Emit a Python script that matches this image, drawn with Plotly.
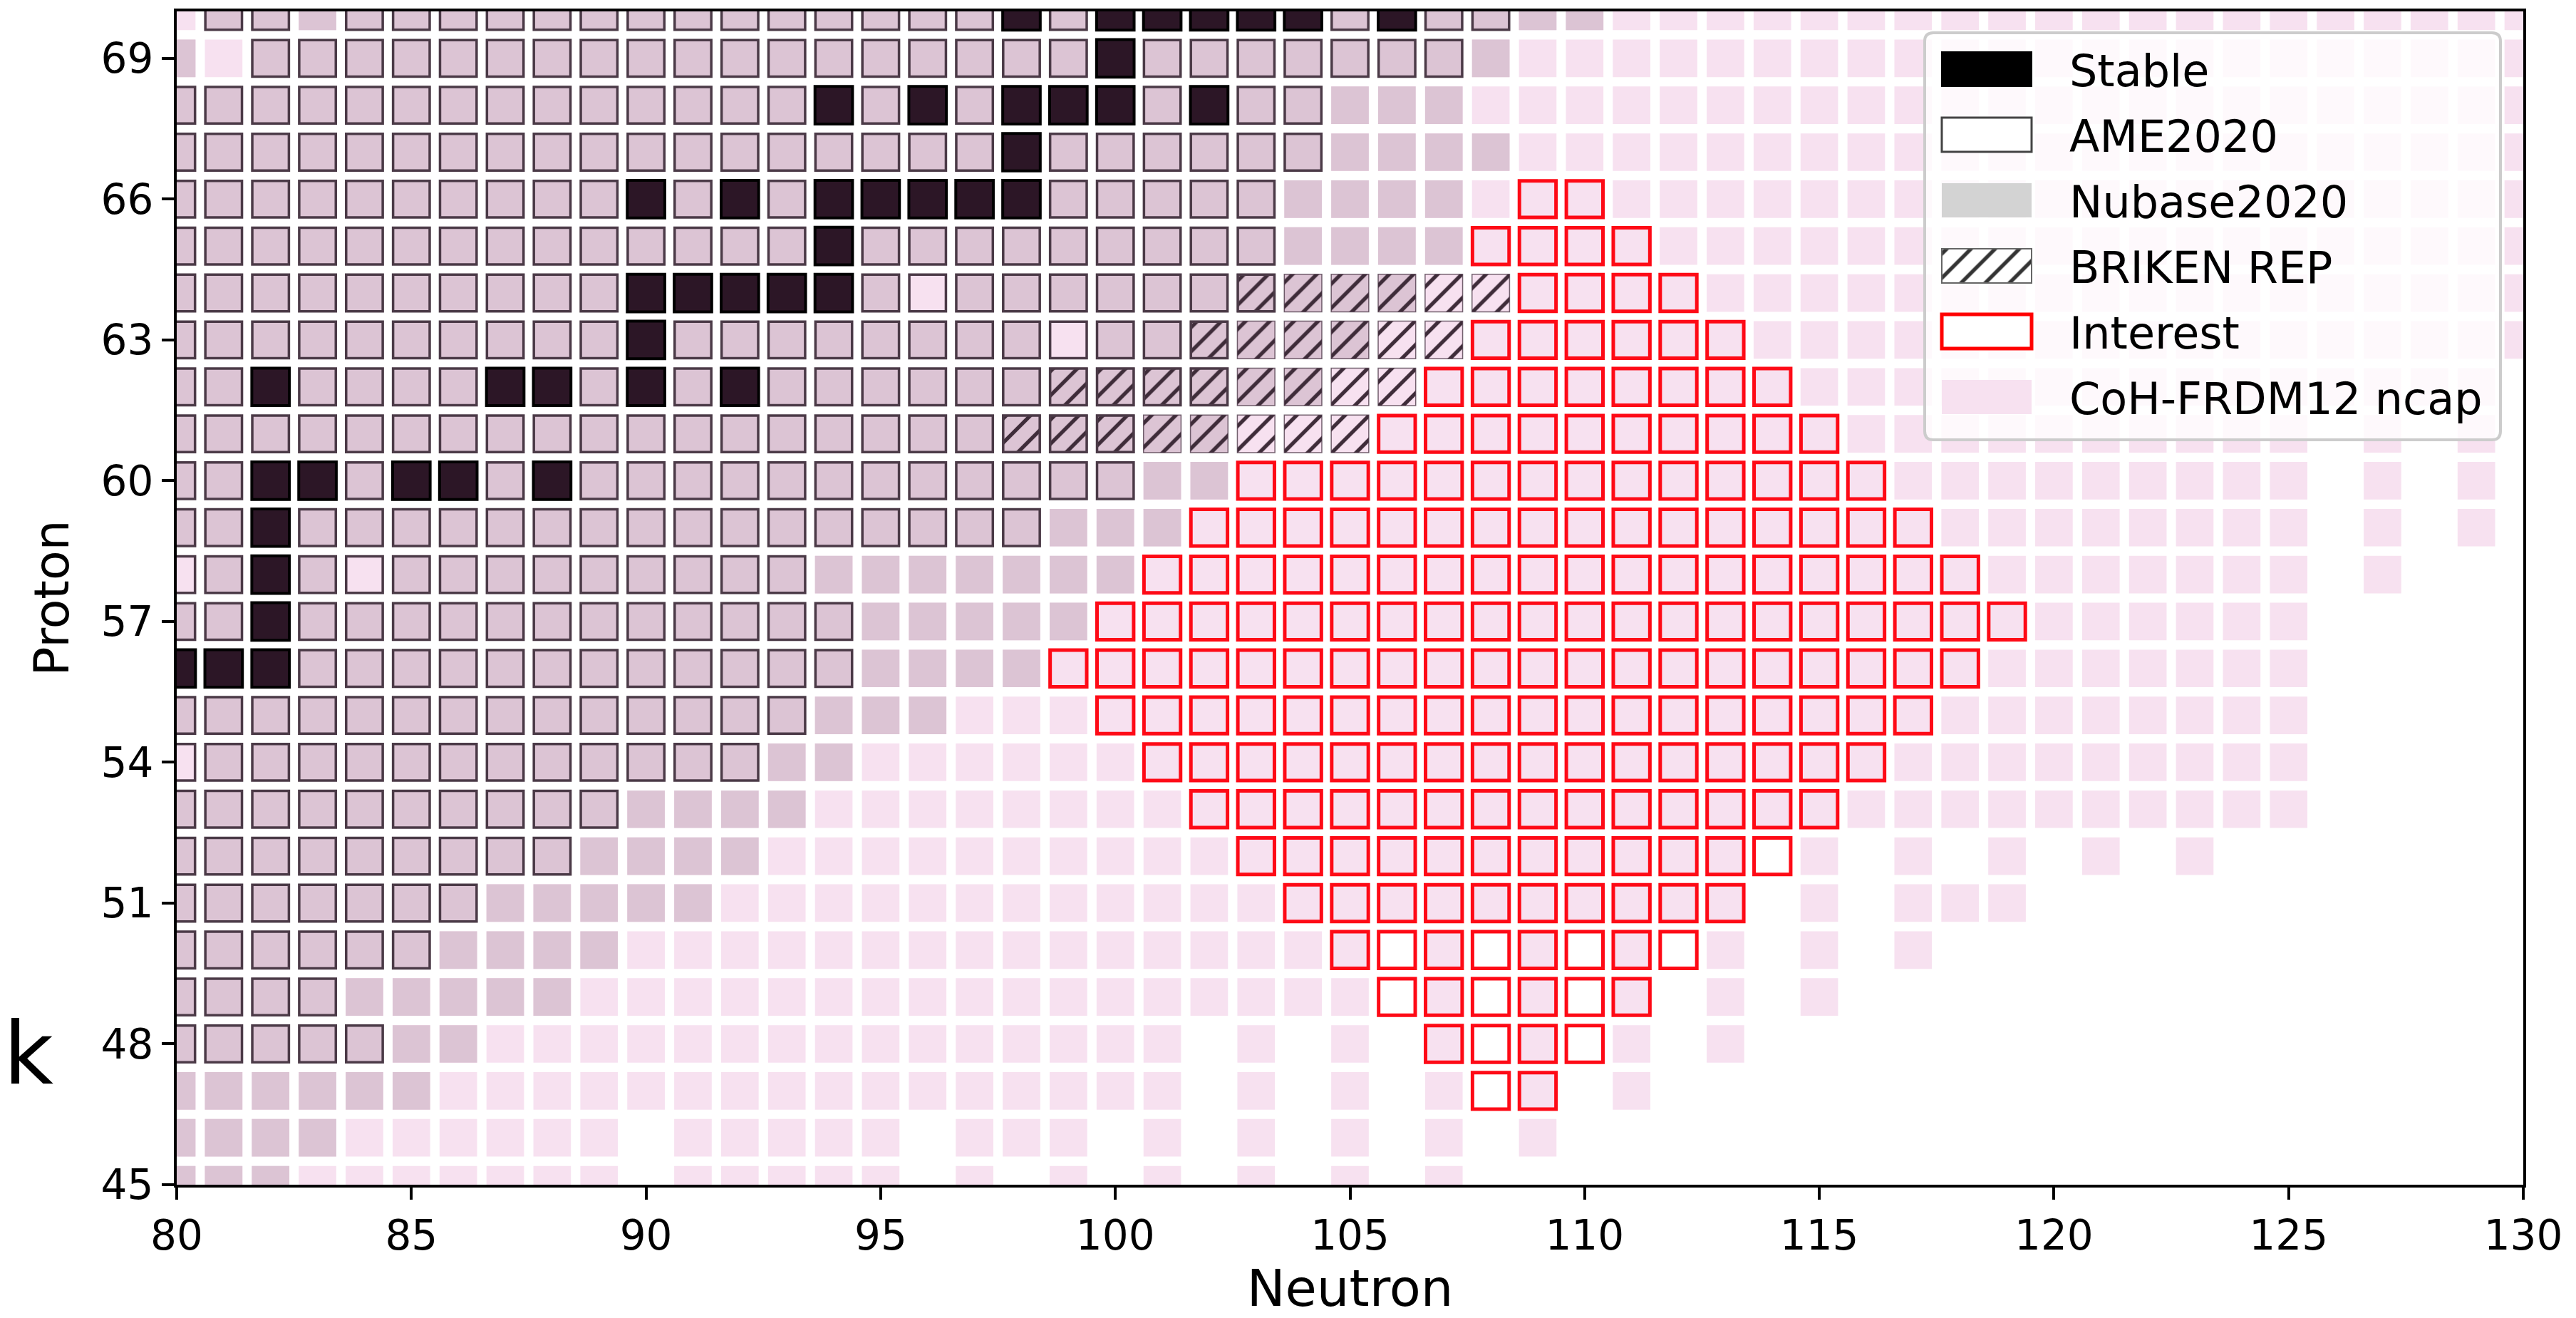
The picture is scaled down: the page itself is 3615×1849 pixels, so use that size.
import plotly.graph_objects as go

# ---------------- data ----------------
# Each dict: proton number Z -> list of neutron numbers N (int) or inclusive runs (first, last)
NCAP_COH_FRDM12 = {
    70: [(80, 130)], 69: [(80, 130)], 68: [(80, 130)], 67: [(80, 130)],
    66: [(80, 130)], 65: [(80, 130)], 64: [(80, 130)], 63: [(80, 130)],
    62: [(80, 129)],
    61: [(80, 125), 127, 129], 60: [(80, 125), 127, 129], 59: [(80, 125), 127, 129],
    58: [(80, 125), 127],
    57: [(80, 125)], 56: [(80, 125)], 55: [(80, 125)], 54: [(80, 125)], 53: [(80, 125)],
    52: [(80, 113), 115, 117, 119, 121, 123],
    51: [(80, 113), 115, (117, 119)],
    50: [(80, 105), 107, 109, 111, 113, 115, 117],
    49: [(80, 105), 107, 109, 111, 113, 115],
    48: [(80, 101), 103, 105, 107, 109, 111, 113],
    47: [(80, 101), 103, 105, 107, 109, 111],
    46: [(80, 89), (91, 95), (97, 99), 101, 103, 105, 107, 109],
    45: [(80, 89), (91, 95), 97, 99, 101, 103, 105, 107],
}

NUBASE2020 = {
    70: [(81, 110)], 69: [80, (82, 108)], 68: [(80, 107)], 67: [(80, 108)],
    66: [(80, 107)], 65: [(80, 107)], 64: [(80, 95), (97, 106)],
    63: [(80, 98), (100, 105)], 62: [(80, 104)], 61: [(80, 102)],
    60: [(80, 102)], 59: [(80, 101)], 58: [(81, 83), (85, 100)],
    57: [(80, 99)], 56: [(80, 98)], 55: [(80, 96)], 54: [(81, 94)],
    53: [(80, 93)], 52: [(80, 92)], 51: [(80, 91)], 50: [(80, 89)],
    49: [(80, 88)], 48: [(80, 86)], 47: [(80, 85)], 46: [(80, 83)], 45: [(80, 82)],
}

AME2020 = {
    70: [(81, 82), (84, 108)], 69: [(82, 107)], 68: [(80, 104)], 67: [(80, 104)],
    66: [(80, 103)], 65: [(80, 103)], 64: [(80, 103)], 63: [(80, 102)],
    62: [(80, 102)], 61: [(80, 100)], 60: [(80, 100)], 59: [(80, 98)],
    58: [(80, 93)], 57: [(80, 94)], 56: [(80, 94)], 55: [(80, 93)],
    54: [(80, 92)], 53: [(80, 89)], 52: [(80, 88)], 51: [(80, 86)],
    50: [(80, 85)], 49: [(80, 83)], 48: [(80, 84)],
}

STABLE = {
    70: [98, 100, 101, 102, 103, 104, 106], 69: [100],
    68: [94, 96, 98, 99, 100, 102], 67: [98],
    66: [90, 92, 94, 95, 96, 97, 98], 65: [94],
    64: [90, 91, 92, 93, 94], 63: [90],
    62: [82, 87, 88, 90, 92], 60: [82, 83, 85, 86, 88],
    59: [82], 58: [82], 57: [82], 56: [80, 81, 82],
}

BRIKEN_REP = {64: [(103, 108)], 63: [(102, 107)], 62: [(99, 106)], 61: [(98, 105)]}

INTEREST = {
    66: [(109, 110)], 65: [(108, 111)], 64: [(109, 112)], 63: [(108, 113)],
    62: [(107, 114)], 61: [(106, 115)], 60: [(103, 116)], 59: [(102, 117)],
    58: [(101, 118)], 57: [(100, 119)], 56: [(99, 118)], 55: [(100, 117)],
    54: [(101, 116)], 53: [(102, 115)], 52: [(103, 114)], 51: [(104, 113)],
    50: [(105, 112)], 49: [(106, 111)], 48: [(107, 110)], 47: [(108, 109)],
}

LEGEND_LABELS = ["Stable", "AME2020", "Nubase2020", "BRIKEN REP", "Interest", "CoH-FRDM12 ncap"]
X_TICKS = [80, 85, 90, 95, 100, 105, 110, 115, 120, 125, 130]
Y_TICKS = [45, 48, 51, 54, 57, 60, 63, 66, 69]

# ---------------- styles ----------------
FONT = "DejaVu Sans"
PINK = "#F7E1F0"
NUBASE_FILL = "#DCC4D4"
STABLE_FILL = "#2C1626"
AME_LINE = "#4B3A47"
HATCH = "#3E2C39"
RED = "#FE0A16"
CLEAR = "rgba(0,0,0,0)"


def expand(rows):
    ns, zs = [], []
    for z, runs in rows.items():
        for r in runs:
            a, b = (r, r) if isinstance(r, int) else r
            for n in range(a, b + 1):
                ns.append(n)
                zs.append(z)
    return ns, zs


def cells(rows, size, marker, xaxis="x", yaxis="y"):
    ns, zs = expand(rows)
    return go.Bar(x=ns, y=[size] * len(ns), base=[z - size / 2 for z in zs],
                  width=size, marker=marker, hoverinfo="skip", showlegend=False,
                  xaxis=xaxis, yaxis=yaxis)


fig = go.Figure()
fig.add_trace(cells(NCAP_COH_FRDM12, 0.8, dict(color=PINK, line=dict(width=0))))
fig.add_trace(cells(NUBASE2020, 0.8, dict(color=NUBASE_FILL, line=dict(width=0))))
fig.add_trace(cells(BRIKEN_REP, 0.8, dict(
    color=CLEAR,
    pattern=dict(shape="/", fgcolor=HATCH, bgcolor=CLEAR, size=24, solidity=0.22,
                 fillmode="overlay", fgopacity=1),
    line=dict(color="rgba(70,50,65,0.75)", width=1.5))))
fig.add_trace(cells(AME2020, 0.78, dict(color=CLEAR, line=dict(color=AME_LINE, width=3.5))))
fig.add_trace(cells(STABLE, 0.8, dict(color=STABLE_FILL, line=dict(color="black", width=4))))
fig.add_trace(cells(INTEREST, 0.78, dict(color=CLEAR, line=dict(color=RED, width=5))))

# ---------------- custom legend (overlay subplot in pixel units) ----------------
LX0, LX1, LY0, LY1, LR = 2701, 3509, 46, 617, 12
ROW0, ROWSTEP = 97, 92
PATCH_X0, PATCH_X1, PATCH_H = 2725, 2851, 48
TEXT_X = 2902

legend_styles = [
    dict(color="black", line=dict(color="black", width=2)),
    dict(color="white", line=dict(color="#444444", width=3)),
    dict(color="#D3D3D3", line=dict(width=0)),
    dict(color="white", pattern=dict(shape="/", fgcolor="#333333", bgcolor="white", size=24,
                                     solidity=0.22, fillmode="overlay", fgopacity=1),
         line=dict(color="#666666", width=2)),
    dict(color="white", line=dict(color="red", width=5)),
    dict(color=PINK, line=dict(width=0)),
]
for i, (label, st) in enumerate(zip(LEGEND_LABELS, legend_styles)):
    cy = ROW0 + i * ROWSTEP
    fig.add_trace(go.Bar(x=[(PATCH_X0 + PATCH_X1) / 2], y=[PATCH_H], base=[cy - PATCH_H / 2],
                         width=PATCH_X1 - PATCH_X0, marker=st, hoverinfo="skip",
                         showlegend=False, xaxis="x2", yaxis="y2"))
    fig.add_annotation(x=TEXT_X, y=cy + 2, xref="x2", yref="y2", text=label, showarrow=False,
                       xanchor="left", yanchor="middle", font=dict(family=FONT, size=62, color="black"))

path = (f"M{LX0+LR},{LY0} L{LX1-LR},{LY0} Q{LX1},{LY0} {LX1},{LY0+LR} "
        f"L{LX1},{LY1-LR} Q{LX1},{LY1} {LX1-LR},{LY1} L{LX0+LR},{LY1} "
        f"Q{LX0},{LY1} {LX0},{LY1-LR} L{LX0},{LY0+LR} Q{LX0},{LY0} {LX0+LR},{LY0} Z")
fig.add_shape(type="path", path=path, xref="x2", yref="y2", layer="below",
              fillcolor="rgba(255,255,255,0.8)", line=dict(color="#CCCCCC", width=4))

# stray glyph at the left edge of the reference
fig.add_annotation(x=-244 / 3293, y=(1662 - 1478) / 1646, xref="paper", yref="paper", text="k",
                   showarrow=False, xanchor="left", yanchor="middle", borderpad=0,
                   font=dict(family=FONT, size=121, color="black"))

axis_common = dict(ticks="outside", ticklen=17, tickwidth=3.5, tickcolor="black",
                   showline=True, linewidth=4, linecolor="black", mirror=True,
                   showgrid=False, zeroline=False,
                   tickfont=dict(family=FONT, size=58, color="black"))

fig.update_layout(
    width=3615, height=1849,
    margin=dict(l=248, r=74, t=16, b=187, autoexpand=False),
    paper_bgcolor="white", plot_bgcolor=CLEAR,
    barmode="overlay", showlegend=False,
    font=dict(family=FONT, size=58, color="black"),
    xaxis=dict(range=[80, 130], tickvals=X_TICKS, domain=[0, 1], anchor="y",
               title=dict(text="Neutron", font=dict(family=FONT, size=72), standoff=32),
               **axis_common),
    yaxis=dict(range=[45, 70], tickvals=Y_TICKS, domain=[0, 1], anchor="x",
               title=dict(text="Proton", font=dict(family=FONT, size=68), standoff=24),
               **axis_common),
    xaxis2=dict(domain=[0, 1], range=[248, 3541], visible=False, anchor="y2", fixedrange=True),
    yaxis2=dict(domain=[0, 1], range=[1662, 16], visible=False, anchor="x2", fixedrange=True),
)

fig.write_html("out.html")
